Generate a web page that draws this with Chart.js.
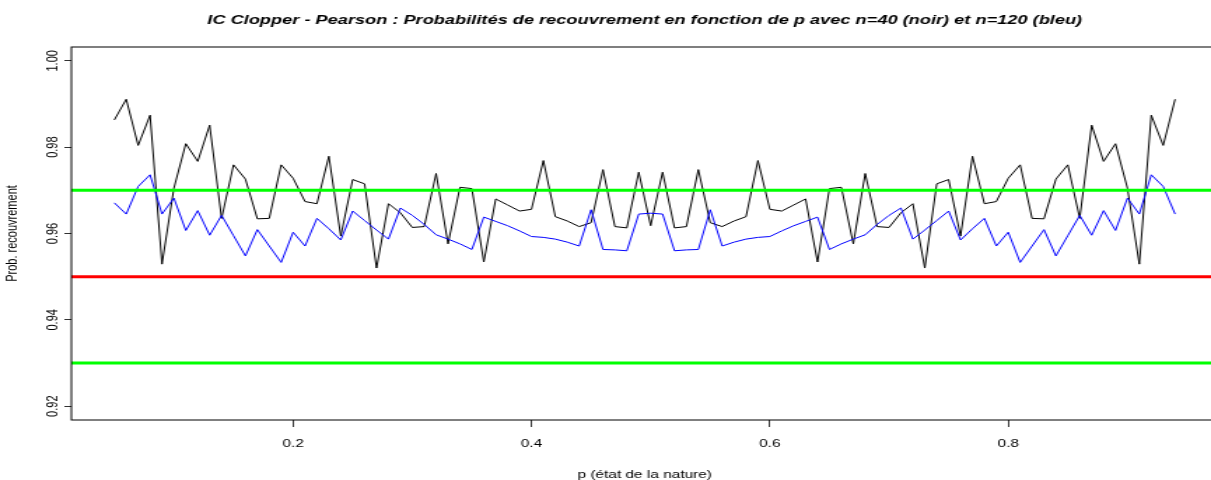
<!DOCTYPE html>
<html>
<head>
<meta charset="utf-8">
<script src="https://cdn.jsdelivr.net/npm/chart.js@4.4.0/dist/chart.umd.min.js"></script>
<style>
  html, body { margin: 0; padding: 0; background: #fff; overflow: hidden; }
  #wrap { width: 1211px; height: 480px; overflow: hidden; }
</style>
</head>
<body>
<div id="wrap">
  <!-- drawn narrow, then stretched sideways like the original R export -->
  <canvas id="c" width="880" height="480" style="width:1232px;height:480px"></canvas>
</div>
<script>
// --- DATA ---
const pValues = [
  0.05, 0.06, 0.07, 0.08, 0.09, 0.10, 0.11, 0.12, 0.13, 0.14,
  0.15, 0.16, 0.17, 0.18, 0.19, 0.20, 0.21, 0.22, 0.23, 0.24,
  0.25, 0.26, 0.27, 0.28, 0.29, 0.30, 0.31, 0.32, 0.33, 0.34,
  0.35, 0.36, 0.37, 0.38, 0.39, 0.40, 0.41, 0.42, 0.43, 0.44,
  0.45, 0.46, 0.47, 0.48, 0.49, 0.50, 0.51, 0.52, 0.53, 0.54,
  0.55, 0.56, 0.57, 0.58, 0.59, 0.60, 0.61, 0.62, 0.63, 0.64,
  0.65, 0.66, 0.67, 0.68, 0.69, 0.70, 0.71, 0.72, 0.73, 0.74,
  0.75, 0.76, 0.77, 0.78, 0.79, 0.80, 0.81, 0.82, 0.83, 0.84,
  0.85, 0.86, 0.87, 0.88, 0.89, 0.90, 0.91, 0.92, 0.93, 0.94
];

// n = 40 (noir)
const coverN40 = [
  0.9863, 0.9911, 0.9804, 0.9874, 0.9529, 0.9705, 0.9808, 0.9767, 0.9851, 0.9635,
  0.9759, 0.9726, 0.9634, 0.9635, 0.9759, 0.9728, 0.9674, 0.9669, 0.9779, 0.9594,
  0.9725, 0.9715, 0.9520, 0.9669, 0.9648, 0.9614, 0.9616, 0.9739, 0.9576, 0.9707,
  0.9704, 0.9534, 0.9680, 0.9666, 0.9652, 0.9656, 0.9769, 0.9639, 0.9629, 0.9616,
  0.9625, 0.9748, 0.9616, 0.9613, 0.9742, 0.9618, 0.9742, 0.9613, 0.9616, 0.9748,
  0.9625, 0.9616, 0.9629, 0.9639, 0.9769, 0.9656, 0.9652, 0.9666, 0.9680, 0.9534,
  0.9704, 0.9707, 0.9576, 0.9739, 0.9616, 0.9614, 0.9648, 0.9669, 0.9520, 0.9715,
  0.9725, 0.9594, 0.9779, 0.9669, 0.9674, 0.9728, 0.9759, 0.9635, 0.9634, 0.9726,
  0.9759, 0.9635, 0.9851, 0.9767, 0.9808, 0.9705, 0.9529, 0.9874, 0.9804, 0.9911
];

// n = 120 (bleu)
const coverN120 = [
  0.9671, 0.9645, 0.9709, 0.9736, 0.9645, 0.9682, 0.9607, 0.9653, 0.9596, 0.9642,
  0.9595, 0.9548, 0.9609, 0.9571, 0.9533, 0.9603, 0.9571, 0.9635, 0.9611, 0.9585,
  0.9652, 0.9630, 0.9608, 0.9587, 0.9659, 0.9642, 0.9621, 0.9597, 0.9587, 0.9576,
  0.9563, 0.9638, 0.9628, 0.9618, 0.9606, 0.9593, 0.9591, 0.9587, 0.9580, 0.9571,
  0.9655, 0.9563, 0.9562, 0.9560, 0.9645, 0.9647, 0.9645, 0.9560, 0.9562, 0.9563,
  0.9655, 0.9571, 0.9580, 0.9587, 0.9591, 0.9593, 0.9606, 0.9618, 0.9628, 0.9638,
  0.9563, 0.9576, 0.9587, 0.9597, 0.9621, 0.9642, 0.9659, 0.9587, 0.9608, 0.9630,
  0.9652, 0.9585, 0.9611, 0.9635, 0.9571, 0.9603, 0.9533, 0.9571, 0.9609, 0.9548,
  0.9595, 0.9642, 0.9596, 0.9653, 0.9607, 0.9682, 0.9645, 0.9736, 0.9709, 0.9645
];

const refLevels = [0.97, 0.95, 0.93];
const refColors = ['#00ff00', '#ff0000', '#00ff00'];

const xTicks = [0.2, 0.4, 0.6, 0.8];
const yTicks = [0.92, 0.94, 0.96, 0.98, 1.00];
const xRange = [0.014, 0.976];
const yRange = [0.9168, 1.0032];

const FONT = "'Liberation Sans', Arial, sans-serif";

// --- PLOT BOX (R bty="o") ---
const boxPlugin = {
  id: 'box',
  afterDatasetsDraw(chart) {
    const { ctx, chartArea: a } = chart;
    ctx.save();
    ctx.strokeStyle = '#000';
    ctx.lineWidth = 1;
    ctx.strokeRect(a.left, a.top, a.right - a.left, a.bottom - a.top);
    ctx.restore();
  }
};

const refDatasets = refLevels.map((lvl, i) => ({
  data: [{ x: xRange[0], y: lvl }, { x: xRange[1], y: lvl }],
  borderColor: refColors[i],
  borderWidth: 3,
  pointRadius: 0,
  order: 0
}));

new Chart(document.getElementById('c'), {
  type: 'line',
  data: {
    datasets: [
      ...refDatasets,
      {
        data: pValues.map((p, i) => ({ x: p, y: coverN120[i] })),
        borderColor: '#0000ff',
        borderWidth: 1,
        borderJoinStyle: 'round',
        pointRadius: 0,
        order: 1
      },
      {
        data: pValues.map((p, i) => ({ x: p, y: coverN40[i] })),
        borderColor: '#000000',
        borderWidth: 1,
        borderJoinStyle: 'round',
        pointRadius: 0,
        order: 2
      }
    ]
  },
  options: {
    responsive: false,
    devicePixelRatio: 1,
    animation: false,
    layout: { padding: { left: 0, right: 10, top: 0, bottom: 0 } },
    plugins: {
      legend: { display: false },
      tooltip: { enabled: false },
      title: {
        display: true,
        fullSize: false,
        text: 'IC Clopper - Pearson : Probabilités de recouvrement en fonction de p avec n=40 (noir) et n=120 (bleu)',
        color: '#000',
        font: { family: FONT, size: 13, weight: 'bold', style: 'italic', lineHeight: 1.2 },
        padding: { top: 12.5, bottom: 18.9 }
      }
    },
    scales: {
      x: {
        type: 'linear',
        min: xRange[0],
        max: xRange[1],
        afterBuildTicks: (scale) => { scale.ticks = xTicks.map(v => ({ value: v })); },
        afterFit: (scale) => { scale.height = 60; },
        border: { display: false },
        grid: { drawOnChartArea: false, drawTicks: true, tickLength: 7, color: '#333' },
        ticks: {
          color: '#000',
          font: { family: FONT, size: 11 },
          padding: 10.4,
          maxRotation: 0,
          callback: (v) => v.toFixed(1)
        },
        title: {
          display: true,
          text: 'p (état de la nature)',
          color: '#000',
          font: { family: FONT, size: 11 },
          padding: { top: 0, bottom: -2 }
        }
      },
      y: {
        type: 'linear',
        min: yRange[0],
        max: yRange[1],
        afterBuildTicks: (scale) => { scale.ticks = yTicks.map(v => ({ value: v })); },
        afterFit: (scale) => { scale.width = 51; },
        border: { display: false },
        grid: { drawOnChartArea: false, drawTicks: true, tickLength: 5, color: '#333' },
        ticks: {
          color: '#000',
          font: { family: FONT, size: 11 },
          padding: -3,
          minRotation: 90,
          maxRotation: 90,
          crossAlign: 'center',
          callback: (v) => v.toFixed(2)
        },
        title: {
          display: true,
          text: 'Prob. recouvrement',
          color: '#000',
          font: { family: FONT, size: 11 },
          padding: { top: 2, bottom: 0 }
        }
      }
    }
  },
  plugins: [boxPlugin]
});
</script>
</body>
</html>
